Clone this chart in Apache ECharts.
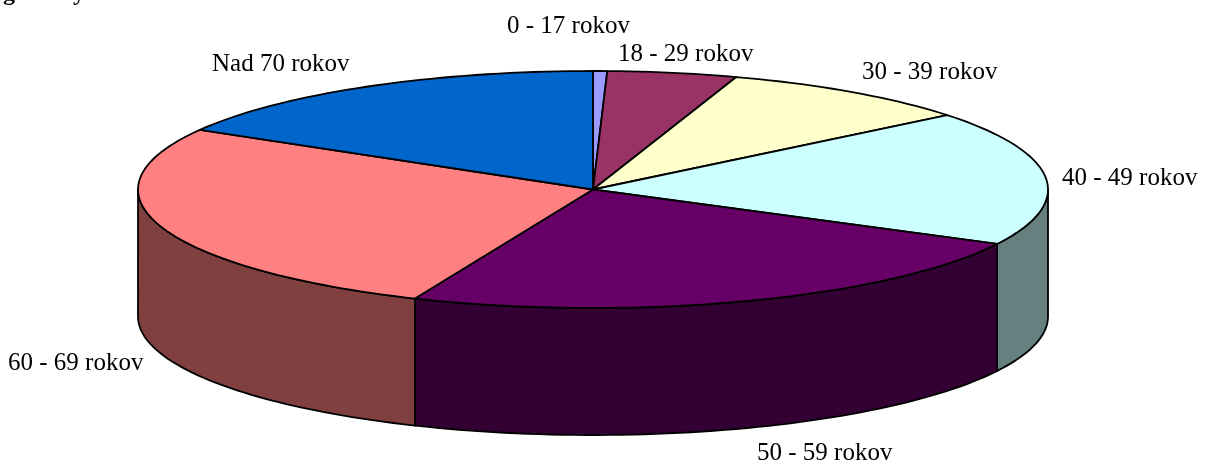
<!DOCTYPE html>
<html>
<head>
<meta charset="utf-8">
<style>html,body{margin:0;padding:0;background:#fff}#c{width:1206px;height:464px}</style>
<script src="https://cdn.jsdelivr.net/npm/echarts@6/dist/echarts.min.js"></script>
</head>
<body>
<div id="c"></div>
<script>
// Data
const categories = ['0 - 17 rokov','18 - 29 rokov','30 - 39 rokov','40 - 49 rokov','50 - 59 rokov','60 - 69 rokov','Nad 70 rokov'];
const shares = [0.5, 4.6, 9.1, 18.4, 23.8, 27.0, 16.6];
const topColors = ['#9999FF','#993366','#FFFFCC','#CCFFFF','#660066','#FF8080','#0066CC'];
const sideColors = ['#4D4D80','#4D1A33','#808066','#668080','#330033','#804040','#003366'];
// Layout, kept apart from the data
const labelAnchors = [[507,26],[618,54],[862,72],[1062,178],[757,453],[8,363],[212,64]];
const clippedTitle = [['g',3,-18],['y',73,-18]];
const pie = {cx:593, cy:189.5, rx:455, ry:118.5, depth:127};
const font = 'Liberation Serif';

const total = shares.reduce((a,b)=>a+b,0);
let run = 0;
const rows = shares.map((v,i)=>{const s=run; run+=v; return [s/total*360, run/total*360, i];});

function pt(deg, dy){
  const t = deg*Math.PI/180;
  return [pie.cx+pie.rx*Math.sin(t), pie.cy-pie.ry*Math.cos(t)+(dy||0)];
}
function arc(a,b,dy){
  const n = Math.max(2, Math.ceil((b-a)/1.5));
  const p = [];
  for(let k=0;k<=n;k++) p.push(pt(a+(b-a)*k/n,dy));
  return p;
}
const line = {stroke:'#000', lineWidth:1.8, lineJoin:'round'};

function renderItem(params, api){
  const a = api.value(0), b = api.value(1), i = api.value(2);
  const children = [];
  const fa = Math.max(a,90), fb = Math.min(b,270);
  if(fb>fa){
    const pts = arc(fa,fb,0).concat(arc(fa,fb,pie.depth).reverse());
    children.push({type:'polygon', shape:{points:pts}, style:Object.assign({fill:sideColors[i]},line)});
  }
  children.push({type:'polygon', shape:{points:[[pie.cx,pie.cy]].concat(arc(a,b,0))}, style:Object.assign({fill:topColors[i]},line)});
  children.push({type:'text', x:labelAnchors[i][0], y:labelAnchors[i][1],
    style:{text:categories[i], fill:'#000', font:'25px "'+font+'"', textAlign:'left', textVerticalAlign:'middle'}});
  return {type:'group', children};
}

const chart = echarts.init(document.getElementById('c'), null, {renderer:'canvas'});
chart.setOption({
  animation:false,
  backgroundColor:'#fff',
  tooltip:{show:false},
  series:[{type:'custom', coordinateSystem:'none', data:rows, renderItem, silent:true}],
  graphic:clippedTitle.map(t=>({type:'text', x:t[1], y:t[2],
    style:{text:t[0], fill:'#000', font:'bold 24px "'+font+'"'}}))
});
</script>
</body>
</html>
